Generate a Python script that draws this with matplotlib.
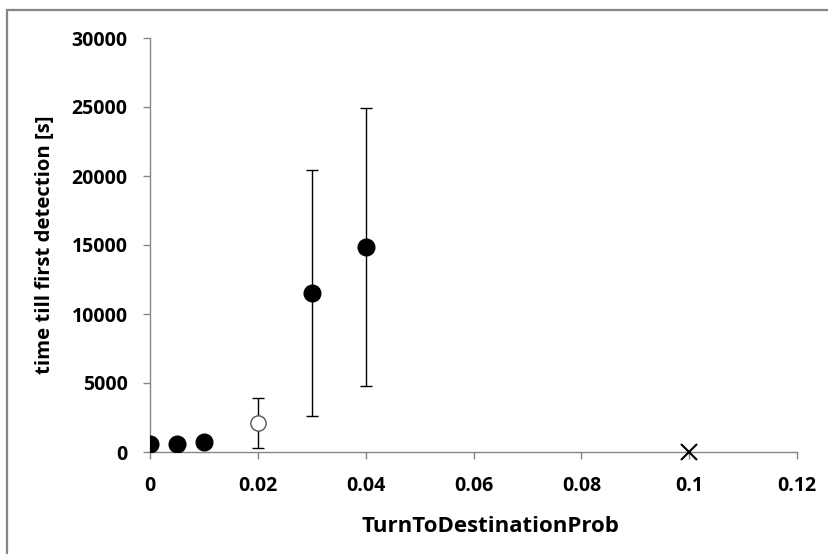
import numpy as np
import matplotlib.pyplot as plt
from matplotlib.patches import Rectangle

# values
x_filled = [0, 0.005, 0.01, 0.03, 0.04]
y_filled = [600, 600, 700, 11500, 14850]
err_lo = [0, 0, 0, 8900, 10050]
err_hi = [0, 0, 0, 8950, 10100]

x_open = [0.02]
y_open = [2100]
open_lo = [1800]
open_hi = [1800]

x_cross = [0.1]
y_cross = [0]

xticks = [0, 0.02, 0.04, 0.06, 0.08, 0.1, 0.12]
xticklabels = ['0', '0.02', '0.04', '0.06', '0.08', '0.1', '0.12']
yticks = [0, 5000, 10000, 15000, 20000, 25000, 30000]

plt.rcParams['font.family'] = ['Open Sans', 'DejaVu Sans']
plt.rcParams['font.weight'] = 'bold'

fig = plt.figure(figsize=(8.29, 5.54), dpi=100)
ax = fig.add_axes([150/829, 1-452/554, 647/829, 414/554])

# outer chart border (only top and left visible in the picture)
fig.patches.append(Rectangle((7.5/829, -0.5), 2, 0.5 + 1 - 10/554, transform=fig.transFigure,
                             fill=False, edgecolor='#868686', linewidth=1.6))

ax.errorbar(x_filled, y_filled, yerr=[err_lo, err_hi], fmt='o', color='black',
            markersize=12, ecolor='black', elinewidth=1, capsize=4, capthick=1, zorder=3)
ax.errorbar(x_open, y_open, yerr=[open_lo, open_hi], fmt='o', markerfacecolor='white',
            markeredgecolor='#555555', markeredgewidth=1, markersize=11,
            ecolor='black', elinewidth=1, capsize=4, capthick=1, zorder=3)
ax.plot(x_cross, y_cross, 'x', color='black', markersize=11, markeredgewidth=1.5,
        clip_on=False, zorder=4)

ax.set_xlim(0, 0.12)
ax.set_ylim(0, 30000)
ax.set_xticks(xticks)
ax.set_xticklabels(xticklabels)
ax.set_yticks(yticks)

for s in ['top', 'right']:
    ax.spines[s].set_visible(False)
for s in ['left', 'bottom']:
    ax.spines[s].set_color('#868686')
    ax.spines[s].set_linewidth(1)
ax.tick_params(colors='#868686', labelcolor='black', length=5, width=1, labelsize=14)
ax.tick_params(axis='y', pad=11)
ax.tick_params(axis='x', pad=12)
for lab in ax.get_xticklabels() + ax.get_yticklabels():
    lab.set_fontweight('bold')

ax.set_xlabel('TurnToDestinationProb', fontsize=16, fontweight='bold', labelpad=15)
ax.xaxis.label.set_x((490 - 150) / 647)
ax.set_ylabel('time till first detection [s]', fontsize=14.6, fontweight='bold', labelpad=12)

fig.savefig('out.png', dpi=100)
